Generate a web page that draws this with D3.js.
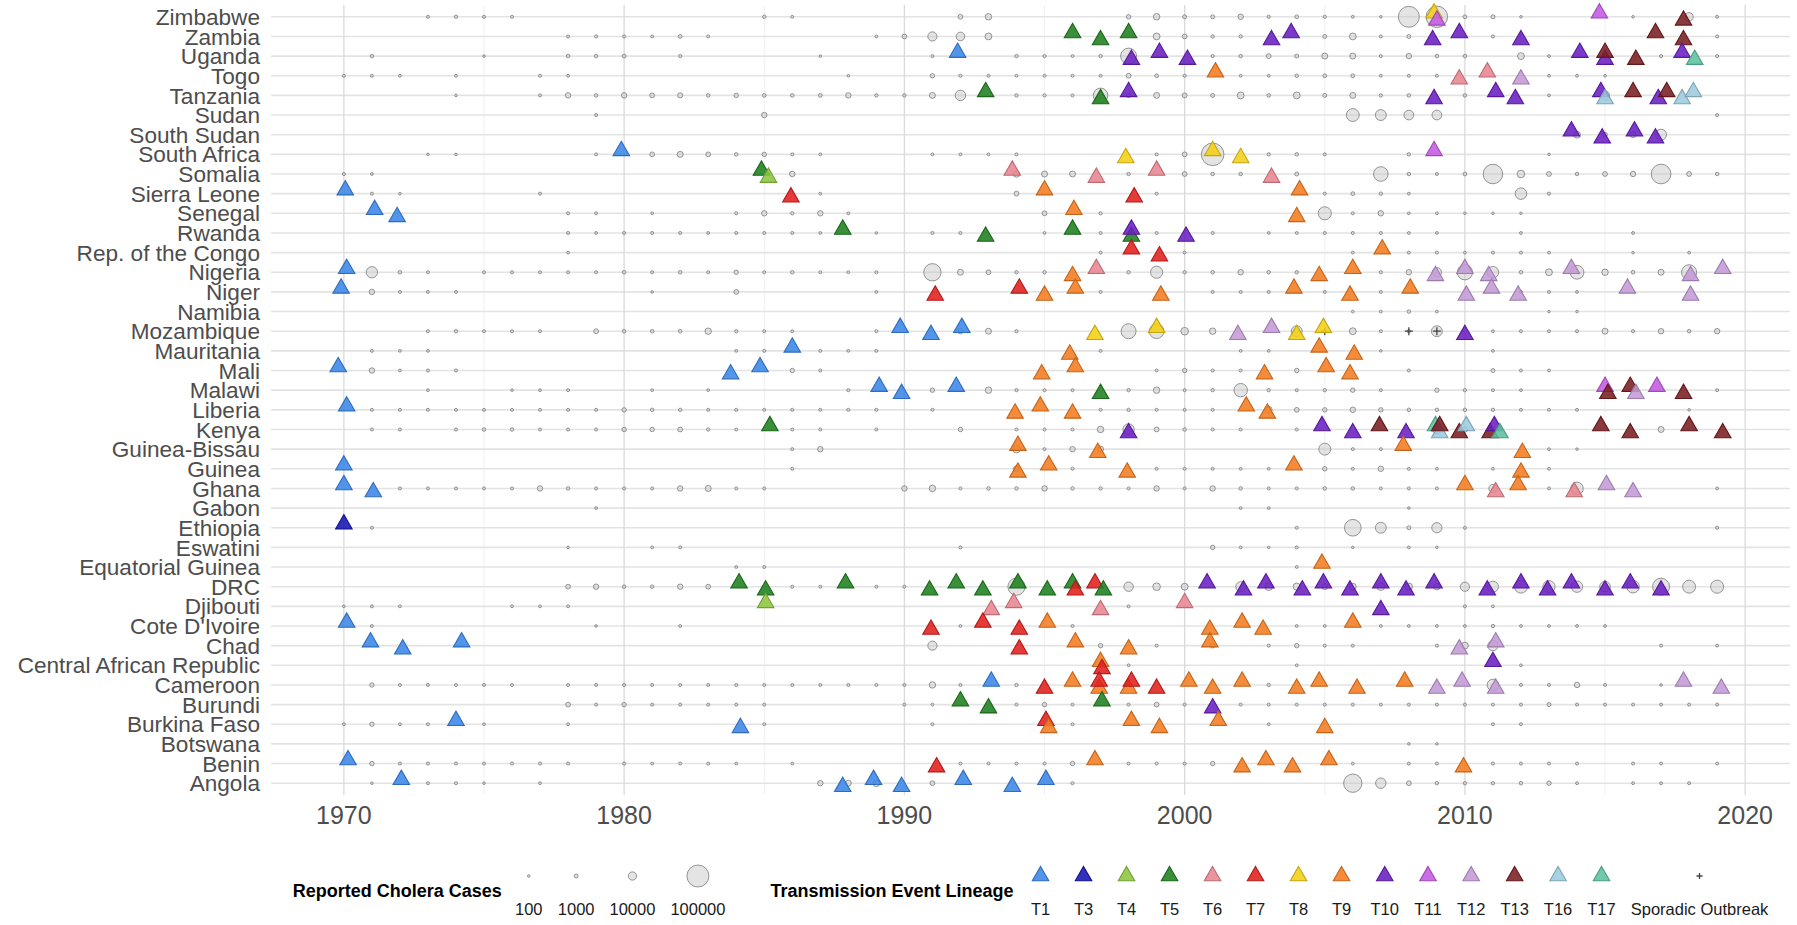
<!DOCTYPE html>
<html>
<head>
<meta charset="utf-8">
<script src="https://cdn.jsdelivr.net/npm/d3@7"></script>
<style>
  body { margin: 0; background: #fff; }
  svg { display: block; font-family: "Liberation Sans", Arial, sans-serif; }
  .row-grid { stroke: #e3e3e3; stroke-width: 1.6; }
  .major-grid { stroke: #dadada; stroke-width: 1.3; }
  .minor-grid { stroke: #eeeeee; stroke-width: 0.9; }
  .country { fill: #4d4d4d; font-size: 22.6px; }
  .year { fill: #4d4d4d; font-size: 25px; }
  .cases { fill: #c4c4c4; fill-opacity: 0.45; stroke: #767676; stroke-opacity: 0.75; stroke-width: 1; }
  .event { fill-opacity: 0.88; stroke-width: 1.1; }
  .sporadic { stroke: #444; stroke-width: 1.3; }
  .legend-title { font-size: 18px; font-weight: bold; fill: #000; }
  .legend-label { font-size: 16.5px; fill: #1a1a1a; }
</style>
</head>
<body>
<svg id="chart" width="1797" height="925"></svg>
<script>
var countries = ["Zimbabwe", "Zambia", "Uganda", "Togo", "Tanzania", "Sudan", "South Sudan",
  "South Africa", "Somalia", "Sierra Leone", "Senegal", "Rwanda", "Rep. of the Congo", "Nigeria",
  "Niger", "Namibia", "Mozambique", "Mauritania", "Mali", "Malawi", "Liberia", "Kenya",
  "Guinea-Bissau", "Guinea", "Ghana", "Gabon", "Ethiopia", "Eswatini", "Equatorial Guinea", "DRC",
  "Djibouti", "Cote D'Ivoire", "Chad", "Central African Republic", "Cameroon", "Burundi",
  "Burkina Faso", "Botswana", "Benin", "Angola"];

var lineages = ["T1", "T3", "T4", "T5", "T6", "T7", "T8", "T9", "T10", "T11", "T12", "T13", "T16", "T17"];
var lineageColors = ["#3a86e8", "#1515b5", "#8dc63f", "#1f7f1f", "#e98590", "#e0201e", "#f3cf14",
  "#f47c20", "#6a1fc0", "#c45ae3", "#c39ad6", "#7a1e22", "#9ccbe0", "#5dc1a0"];

var sizeBreaks = [100, 1000, 10000, 100000];
var yearTicks = [1970, 1980, 1990, 2000, 2010, 2020];
var minorTicks = [1975, 1985, 1995, 2005, 2015];

// reported cases: country, [year, cases, year, cases, ...]
var cases = [
  ["Zimbabwe", [1973,300, 1974,500, 1975,300, 1976,300, 1985,600, 1986,200, 1992,2000, 1993,5000, 1998,1500, 1999,5000, 2000,1000, 2001,1000, 2002,3000, 2003,400, 2004,800, 2005,400, 2006,200, 2007,100, 2008,90000, 2009,95000, 2010,800, 2011,1100, 2012,100, 2016,100, 2018,10000, 2019,300]],
  ["Zambia", [1978,300, 1979,300, 1980,300, 1981,200, 1982,800, 1983,300, 1989,200, 1990,2000, 1991,13000, 1992,11000, 1993,6000, 1999,6000, 2000,2000, 2001,500, 2002,500, 2005,1000, 2006,6000, 2007,300, 2008,1000, 2011,300, 2019,300]],
  ["Uganda", [1971,600, 1975,100, 1978,600, 1979,600, 1980,800, 1982,400, 1987,100, 1991,300, 1994,500, 1995,400, 1996,200, 1997,500, 1998,49000, 2001,400, 2002,600, 2003,2000, 2004,1000, 2005,4000, 2006,4000, 2007,300, 2008,3000, 2009,600, 2010,600, 2012,6000, 2013,200, 2017,300, 2019,300]],
  ["Togo", [1970,300, 1971,300, 1972,200, 1974,200, 1977,300, 1978,200, 1988,100, 1991,1500, 1992,400, 1993,300, 1994,200, 1995,300, 1996,300, 1997,300, 1998,2000, 1999,800, 2000,400, 2002,200, 2003,200, 2004,600, 2005,800, 2006,800, 2007,200, 2008,300, 2009,300, 2013,200, 2014,200, 2015,100]],
  ["Tanzania", [1974,100, 1977,300, 1978,3000, 1979,600, 1980,3000, 1981,2000, 1982,2500, 1983,600, 1984,1500, 1985,800, 1986,700, 1987,800, 1988,3000, 1989,500, 1990,500, 1991,4000, 1992,18000, 1994,500, 1995,400, 1996,300, 1997,40000, 1998,1500, 1999,4000, 2000,2000, 2001,1000, 2002,6000, 2003,700, 2004,6000, 2005,1000, 2006,4000, 2007,500, 2008,600, 2010,600, 2013,200, 2015,12000]],
  ["Sudan", [1979,300, 1985,3000, 2006,30000, 2007,20000, 2008,15000, 2009,15000, 2019,300]],
  ["South Sudan", [2014,6000, 2015,1800, 2016,3800, 2017,20000]],
  ["South Africa", [1973,100, 1974,100, 1979,300, 1981,2000, 1982,4000, 1983,2000, 1984,600, 1985,1500, 1986,300, 1987,200, 1991,200, 1992,200, 1993,200, 1994,300, 1999,300, 2000,2000, 2001,106000, 2003,500, 2004,600, 2005,300, 2008,500, 2013,100]],
  ["Somalia", [1970,300, 1971,200, 1986,3000, 1994,5000, 1995,4000, 1996,4000, 1998,500, 2000,2000, 2001,600, 2002,600, 2004,1000, 2007,40000, 2008,600, 2009,300, 2010,800, 2011,77000, 2012,8000, 2013,2000, 2014,600, 2015,2000, 2016,3000, 2017,78000, 2018,2000, 2019,600]],
  ["Sierra Leone", [1971,300, 1972,100, 1977,300, 1987,200, 1994,2000, 1999,300, 2005,300, 2006,800, 2007,600, 2008,200, 2012,23000, 2013,400]],
  ["Senegal", [1978,300, 1979,300, 1981,200, 1984,300, 1985,3000, 1986,500, 1987,3000, 1988,200, 1995,2000, 1997,400, 2005,31000, 2006,300, 2007,3000, 2008,200, 2009,200, 2010,100, 2011,100, 2012,100]],
  ["Rwanda", [1978,300, 1979,200, 1980,300, 1981,300, 1982,300, 1983,200, 1984,300, 1985,300, 1986,300, 1987,200, 1989,100, 1991,300, 1992,300, 1995,200, 1997,300, 1999,300, 2001,300, 2003,200, 2004,200, 2005,300, 2006,300, 2007,300, 2008,200, 2009,200, 2012,200, 2016,200]],
  ["Rep. of the Congo", [1978,200, 1997,300, 2000,200, 2006,200, 2008,300, 2009,300, 2010,200, 2011,300, 2012,300, 2013,200, 2016,100, 2018,200]],
  ["Nigeria", [1971,22000, 1972,600, 1973,300, 1975,300, 1976,300, 1977,300, 1978,300, 1979,300, 1980,600, 1981,300, 1982,600, 1983,300, 1984,1500, 1985,300, 1986,600, 1987,300, 1988,200, 1989,300, 1991,59000, 1992,4000, 1993,2000, 1994,500, 1995,500, 1998,600, 1999,26000, 2000,500, 2001,600, 2002,3000, 2003,600, 2004,500, 2007,400, 2008,3000, 2009,13000, 2010,44000, 2011,23000, 2012,600, 2013,6000, 2014,35000, 2015,5000, 2016,700, 2017,4000, 2018,43000]],
  ["Niger", [1971,3000, 1972,300, 1973,300, 1974,300, 1981,100, 1984,2000, 1989,200, 1997,300, 2001,300, 2002,300, 2003,300, 2005,300, 2007,300, 2012,300, 2013,300, 2014,200]],
  ["Namibia", [2006,200, 2007,200, 2008,600, 2009,200, 2013,100, 2014,100]],
  ["Mozambique", [1973,300, 1974,500, 1975,300, 1976,300, 1977,300, 1979,2000, 1980,600, 1981,600, 1982,700, 1983,5000, 1984,400, 1985,300, 1986,200, 1989,300, 1992,3000, 1993,4000, 1994,400, 1998,42000, 1999,40000, 2000,8000, 2001,5000, 2004,20000, 2006,6000, 2007,300, 2008,600, 2009,20000, 2011,200, 2012,300, 2013,300, 2014,300, 2015,4000, 2016,400, 2017,3000, 2018,600, 2019,3000]],
  ["Mauritania", [1971,300, 1972,200, 1973,200, 1984,200, 1985,300, 1987,300, 1988,200, 1989,300, 1997,300, 2002,200, 2003,200, 2007,100, 2011,200]],
  ["Mali", [1971,3000, 1972,200, 1973,300, 1974,300, 1986,1500, 1987,300, 1999,200, 2000,1500, 2001,300, 2002,300, 2004,1500, 2008,300, 2011,1000, 2012,300, 2013,200]],
  ["Malawi", [1973,200, 1976,100, 1977,200, 1978,300, 1981,200, 1983,200, 1988,300, 1991,1500, 1993,5000, 1994,400, 1995,300, 1996,300, 1998,500, 1999,5000, 2000,300, 2001,500, 2002,33000, 2003,500, 2004,300, 2005,500, 2006,1500, 2007,300, 2009,1500, 2010,500, 2011,300, 2012,200, 2019,300]],
  ["Liberia", [1971,300, 1972,300, 1973,300, 1974,300, 1975,300, 1976,300, 1977,300, 1978,300, 1979,300, 1980,1500, 1981,600, 1982,500, 1983,300, 1984,300, 1985,300, 1986,300, 1987,300, 1988,300, 1989,300, 1991,300, 1997,300, 1998,500, 1999,300, 2000,300, 2001,300, 2003,6000, 2004,2000, 2005,1500, 2006,3000, 2007,1500, 2008,600, 2009,600, 2010,600, 2011,500, 2012,300, 2013,300, 2014,300, 2018,100]],
  ["Kenya", [1971,300, 1972,300, 1974,300, 1975,700, 1976,600, 1977,300, 1978,300, 1979,300, 1980,1500, 1981,1500, 1982,2000, 1983,500, 1984,300, 1986,300, 1987,300, 1989,300, 1992,1500, 1994,300, 1995,300, 1996,300, 1997,5000, 1998,22000, 1999,2000, 2000,600, 2001,300, 2002,300, 2004,300, 2009,11000, 2010,3000, 2017,4000]],
  ["Guinea-Bissau", [1986,300, 1987,3000, 1994,8000, 1995,300, 1996,3000, 1997,4000, 2005,25000, 2006,300, 2007,300, 2013,200, 2014,100]],
  ["Guinea", [1986,300, 1994,4000, 1996,300, 1999,300, 2000,300, 2001,300, 2002,200, 2003,200, 2005,1500, 2006,300, 2007,3000, 2008,300, 2009,200, 2011,200, 2013,200]],
  ["Ghana", [1972,300, 1973,300, 1974,300, 1975,300, 1976,300, 1977,3000, 1978,600, 1979,300, 1980,300, 1981,300, 1982,3000, 1983,4000, 1984,300, 1985,300, 1990,3000, 1991,5000, 1992,300, 1993,600, 1994,600, 1995,3000, 1996,600, 1997,500, 1998,300, 1999,3000, 2000,300, 2001,3000, 2002,600, 2003,300, 2004,300, 2005,600, 2006,600, 2007,300, 2008,300, 2009,300, 2011,10000, 2013,300, 2014,28000, 2019,200]],
  ["Gabon", [1979,200, 2002,200, 2003,200, 2008,100]],
  ["Ethiopia", [1971,300, 2004,300, 2006,54000, 2007,20000, 2008,1000, 2009,17000, 2010,300, 2019,300]],
  ["Eswatini", [1978,100, 1981,200, 1982,300, 1992,300, 2001,1500, 2002,200, 2003,100, 2004,300, 2006,100, 2008,200, 2009,100]],
  ["Equatorial Guinea", [1984,200, 1985,300, 2004,200]],
  ["DRC", [1978,2000, 1979,3000, 1980,600, 1981,600, 1982,3000, 1983,2000, 1986,300, 1987,300, 1989,300, 1990,300, 1994,58000, 1998,14000, 1999,8000, 2000,6000, 2002,16000, 2003,8000, 2004,7000, 2005,4000, 2006,6000, 2007,8000, 2008,7000, 2009,5000, 2010,13000, 2011,21000, 2012,30000, 2013,26000, 2014,22000, 2015,19000, 2016,28000, 2017,56000, 2018,30000, 2019,31000]],
  ["Djibouti", [1970,100, 1971,300, 1972,200, 1976,200, 1977,200, 1978,200, 1998,300, 2010,300, 2011,200]],
  ["Cote D'Ivoire", [1971,300, 1979,100, 1982,200, 1992,200, 1996,300, 2004,200, 2005,200, 2007,200, 2008,200, 2009,200, 2010,200, 2011,500, 2012,200, 2013,200, 2014,200, 2015,200]],
  ["Chad", [1991,13000, 1997,1500, 1999,300, 2001,2000, 2003,300, 2004,1500, 2005,300, 2006,300, 2009,300, 2010,6000, 2011,17000, 2017,300, 2019,200]],
  ["Central African Republic", [1998,200, 2004,200, 2012,200]],
  ["Cameroon", [1971,1500, 1972,300, 1973,300, 1974,300, 1975,300, 1976,300, 1978,300, 1979,300, 1980,300, 1981,300, 1982,300, 1983,300, 1984,300, 1985,300, 1986,300, 1987,300, 1988,300, 1989,300, 1990,300, 1991,5000, 1992,300, 1994,500, 2003,500, 2011,23000, 2012,300, 2013,300, 2014,3000, 2015,300, 2017,100]],
  ["Burundi", [1978,2000, 1979,300, 1980,1500, 1981,300, 1982,300, 1983,300, 1984,300, 1985,300, 1990,300, 1991,200, 1994,300, 1995,1500, 1996,300, 1998,300, 1999,2000, 2000,300, 2002,300, 2003,300, 2004,300, 2005,300, 2006,300, 2007,300, 2008,300, 2009,300, 2010,300, 2011,300, 2012,300, 2013,1000, 2014,300, 2015,300, 2016,300, 2017,300, 2018,300, 2019,300]],
  ["Burkina Faso", [1970,200, 1971,1500, 1972,200, 1973,300, 1975,200, 1978,200, 1985,300, 1991,300, 1996,300, 2003,200, 2011,300, 2012,300]],
  ["Botswana", [2008,100, 2009,100]],
  ["Benin", [1971,1500, 1972,300, 1973,300, 1974,300, 1975,300, 1976,300, 1977,300, 1978,300, 1980,300, 1981,200, 1982,300, 1983,300, 1984,200, 1986,200, 1992,300, 1993,300, 1994,300, 1995,300, 1996,1500, 1998,300, 1999,300, 2000,300, 2001,1500, 2006,200, 2008,300, 2009,300, 2011,300, 2012,300, 2013,300, 2014,300, 2016,300, 2017,200, 2019,200]],
  ["Angola", [1971,100, 1973,300, 1974,300, 1975,100, 1977,200, 1987,3000, 1988,4000, 1989,6000, 1991,2000, 1996,300, 2006,67000, 2007,18000, 2008,2000, 2009,500, 2010,500, 2011,500, 2012,600, 2013,1500, 2014,200, 2016,200, 2017,300, 2018,300]]
];

// transmission events: country, [date, lineage, date, lineage, ...]
var events = [
  ["Zimbabwe", [2008.9,"T8", 2009,"T11", 2014.8,"T11", 2017.8,"T13"]],
  ["Zambia", [1996,"T5", 1997,"T5", 1998,"T5", 2003.1,"T10", 2003.8,"T10", 2008.85,"T10", 2009.8,"T10", 2012,"T10", 2016.8,"T13", 2017.8,"T13"]],
  ["Uganda", [1991.9,"T1", 1998.1,"T10", 1999.1,"T10", 2000.1,"T10", 2014.1,"T10", 2015,"T10", 2015,"T13", 2016.1,"T13", 2017.75,"T10", 2018.2,"T17"]],
  ["Togo", [2001.1,"T9", 2009.8,"T6", 2010.8,"T6", 2012,"T12"]],
  ["Tanzania", [1992.9,"T5", 1997,"T5", 1998,"T10", 2008.9,"T10", 2011.1,"T10", 2011.8,"T10", 2014.85,"T10", 2015,"T16", 2016,"T13", 2016.9,"T10", 2017.2,"T13", 2017.75,"T16", 2018.15,"T16"]],
  ["South Sudan", [2013.8,"T10", 2014.9,"T10", 2016.05,"T10", 2016.8,"T10"]],
  ["South Africa", [1979.9,"T1", 1997.9,"T8", 2001,"T8", 2002,"T8", 2008.9,"T11"]],
  ["Somalia", [1984.9,"T5", 1985.15,"T4", 1993.85,"T6", 1996.85,"T6", 1999,"T6", 2003.1,"T6"]],
  ["Sierra Leone", [1970.05,"T1", 1985.95,"T7", 1995,"T9", 1998.2,"T7", 2004.1,"T9"]],
  ["Senegal", [1971.1,"T1", 1971.9,"T1", 1996.05,"T9", 2004,"T9"]],
  ["Rwanda", [1987.8,"T5", 1992.9,"T5", 1996,"T5", 1998.1,"T5", 1998.1,"T10", 2000.05,"T10"]],
  ["Rep. of the Congo", [1998.1,"T7", 1999.1,"T7", 2007.05,"T9"]],
  ["Nigeria", [1970.1,"T1", 1996,"T9", 1996.85,"T6", 2004.8,"T9", 2006,"T9", 2008.95,"T12", 2010,"T12", 2010.85,"T12", 2013.8,"T12", 2018.05,"T12", 2019.2,"T12"]],
  ["Niger", [1969.9,"T1", 1991.1,"T7", 1994.1,"T7", 1995,"T9", 1996.1,"T9", 1999.15,"T9", 2003.9,"T9", 2005.9,"T9", 2008.05,"T9", 2010.05,"T12", 2010.95,"T12", 2011.9,"T12", 2015.8,"T12", 2018.05,"T12"]],
  ["Mozambique", [1989.85,"T1", 1990.95,"T1", 1992.05,"T1", 1996.8,"T8", 1999,"T8", 2001.9,"T12", 2003.1,"T12", 2004,"T8", 2004.95,"T8", 2010,"T10"]],
  ["Mauritania", [1986,"T1", 1995.9,"T9", 2004.8,"T9", 2006.05,"T9"]],
  ["Mali", [1969.8,"T1", 1983.8,"T1", 1984.85,"T1", 1994.9,"T9", 1996.1,"T9", 2002.85,"T9", 2005.05,"T9", 2005.9,"T9"]],
  ["Malawi", [1989.1,"T1", 1989.9,"T1", 1991.85,"T1", 1997,"T5", 2015,"T11", 2015.1,"T13", 2015.9,"T13", 2016.1,"T12", 2016.85,"T11", 2017.8,"T13"]],
  ["Liberia", [1970.1,"T1", 1993.95,"T9", 1994.85,"T9", 1996,"T9", 2002.2,"T9", 2002.95,"T9"]],
  ["Kenya", [1985.2,"T5", 1998,"T10", 2004.9,"T10", 2006,"T10", 2006.95,"T13", 2007.9,"T10", 2008.95,"T17", 2009.1,"T16", 2009.1,"T13", 2009.8,"T13", 2010.05,"T16", 2010.9,"T13", 2011.05,"T10", 2011.25,"T17", 2014.85,"T13", 2015.9,"T13", 2018,"T13", 2019.2,"T13"]],
  ["Guinea-Bissau", [1994.05,"T9", 1996.9,"T9", 2007.8,"T9", 2012.05,"T9"]],
  ["Guinea", [1970,"T1", 1994.05,"T9", 1995.15,"T9", 1997.95,"T9", 2003.9,"T9", 2012,"T9"]],
  ["Ghana", [1970,"T1", 1971.05,"T1", 2010,"T9", 2011.1,"T6", 2011.9,"T9", 2013.9,"T6", 2015.05,"T12", 2016,"T12"]],
  ["Ethiopia", [1970,"T3"]],
  ["Equatorial Guinea", [2004.9,"T9"]],
  ["DRC", [1984.1,"T5", 1985.05,"T5", 1987.9,"T5", 1990.9,"T5", 1991.85,"T5", 1992.8,"T5", 1994.05,"T5", 1995.1,"T5", 1996,"T5", 1996.1,"T7", 1996.8,"T7", 1997.1,"T5", 2000.8,"T10", 2002.1,"T10", 2002.9,"T10", 2004.2,"T10", 2004.95,"T10", 2005.9,"T10", 2007,"T10", 2007.9,"T10", 2008.9,"T10", 2010.8,"T10", 2012,"T10", 2012.95,"T10", 2013.8,"T10", 2015,"T10", 2015.9,"T10", 2017,"T10"]],
  ["Djibouti", [1985.05,"T4", 1993.1,"T6", 1993.9,"T6", 1997,"T6", 2000,"T6", 2007,"T10"]],
  ["Cote D'Ivoire", [1970.1,"T1", 1990.95,"T7", 1992.8,"T7", 1994.1,"T7", 1995.1,"T9", 2000.9,"T9", 2002.05,"T9", 2002.8,"T9", 2006,"T9"]],
  ["Chad", [1970.95,"T1", 1972.1,"T1", 1974.2,"T1", 1994.1,"T7", 1996.1,"T9", 1998,"T9", 2000.9,"T9", 2009.8,"T12", 2011.1,"T12"]],
  ["Central African Republic", [1997,"T9", 1997.05,"T7", 2011,"T10"]],
  ["Cameroon", [1993.1,"T1", 1995,"T7", 1996,"T9", 1996.95,"T9", 1996.95,"T7", 1998,"T9", 1998.1,"T7", 1999,"T7", 2000.15,"T9", 2001,"T9", 2002.05,"T9", 2004,"T9", 2004.8,"T9", 2006.15,"T9", 2007.85,"T9", 2009,"T12", 2009.9,"T12", 2011.1,"T12", 2017.8,"T12", 2019.15,"T12"]],
  ["Burundi", [1992,"T5", 1993,"T5", 1997.05,"T5", 2001,"T10"]],
  ["Burkina Faso", [1974,"T1", 1984.15,"T1", 1995.05,"T7", 1995.15,"T9", 1998.1,"T9", 1999.1,"T9", 2001.2,"T9", 2005,"T9"]],
  ["Benin", [1970.15,"T1", 1991.15,"T7", 1996.8,"T9", 2002.05,"T9", 2002.9,"T9", 2003.85,"T9", 2005.15,"T9", 2009.95,"T9"]],
  ["Angola", [1972.05,"T1", 1987.8,"T1", 1988.9,"T1", 1989.9,"T1", 1992.1,"T1", 1993.85,"T1", 1995.05,"T1"]]
];

var sporadic = [["Mozambique", [2005, 2008, 2009]]];

var svg = d3.select("#chart"),
    width = +svg.attr("width"),
    height = +svg.attr("height");

var panel = {left: 271, right: 1790, top: 5, bottom: 795};

var x = d3.scaleLinear()
    .domain([1967.4, 2021.6])
    .range([panel.left, panel.right]);

var y = d3.scalePoint()
    .domain(countries)
    .range([panel.top, panel.bottom])
    .padding(0.6);

var r = d3.scaleSqrt()
    .domain([100, 100000])
    .range([1.3, 11]);

var color = d3.scaleOrdinal()
    .domain(lineages)
    .range(lineageColors);

function triangle(s) {
  var h = s * 0.87;
  return "M0," + (-h * 2 / 3) + "L" + (s / 2) + "," + (h / 3) + "L" + (-s / 2) + "," + (h / 3) + "Z";
}
var triPath = triangle(16.5);
var plusPath = "M-4,0H4M0,-4V4";

// flatten the pair lists
var casePoints = [];
cases.forEach(function(row) {
  for (var i = 0; i < row[1].length; i += 2)
    casePoints.push({country: row[0], year: row[1][i], n: row[1][i + 1]});
});

var eventPoints = [];
events.forEach(function(row) {
  for (var i = 0, k = 0; i < row[1].length; i += 2, k++)
    eventPoints.push({country: row[0], year: row[1][i], lineage: row[1][i + 1], k: k});
});

var sporadicPoints = [];
sporadic.forEach(function(row) {
  row[1].forEach(function(yr) { sporadicPoints.push({country: row[0], year: yr}); });
});

// gridlines
var grid = svg.append("g");
grid.selectAll(".minor-grid")
  .data(minorTicks)
  .enter().append("line")
    .attr("class", "minor-grid")
    .attr("x1", function(d) { return x(d); })
    .attr("x2", function(d) { return x(d); })
    .attr("y1", panel.top)
    .attr("y2", panel.bottom);

grid.selectAll(".row-grid")
  .data(countries)
  .enter().append("line")
    .attr("class", "row-grid")
    .attr("x1", panel.left)
    .attr("x2", panel.right)
    .attr("y1", function(d) { return y(d); })
    .attr("y2", function(d) { return y(d); });

grid.selectAll(".major-grid")
  .data(yearTicks)
  .enter().append("line")
    .attr("class", "major-grid")
    .attr("x1", function(d) { return x(d); })
    .attr("x2", function(d) { return x(d); })
    .attr("y1", panel.top)
    .attr("y2", panel.bottom);

// axes text
svg.append("g").selectAll("text")
  .data(countries)
  .enter().append("text")
    .attr("class", "country")
    .attr("x", panel.left - 11)
    .attr("y", function(d) { return y(d); })
    .attr("dy", "0.36em")
    .attr("text-anchor", "end")
    .text(function(d) { return d; });

svg.append("g").selectAll("text")
  .data(yearTicks)
  .enter().append("text")
    .attr("class", "year")
    .attr("x", function(d) { return x(d); })
    .attr("y", 824)
    .attr("text-anchor", "middle")
    .text(function(d) { return d; });

// reported cases
svg.append("g").selectAll("circle")
  .data(casePoints)
  .enter().append("circle")
    .attr("class", "cases")
    .attr("cx", function(d) { return x(d.year); })
    .attr("cy", function(d) { return y(d.country); })
    .attr("r", function(d) { return r(d.n); });

// sporadic outbreaks
svg.append("g").selectAll("path")
  .data(sporadicPoints)
  .enter().append("path")
    .attr("class", "sporadic")
    .attr("d", plusPath)
    .attr("transform", function(d) { return "translate(" + x(d.year) + "," + y(d.country) + ")"; });

// transmission events, nudged up / down alternately within a row
var nudge = y.step() * 0.18;
svg.append("g").selectAll("path")
  .data(eventPoints)
  .enter().append("path")
    .attr("class", "event")
    .attr("d", triPath)
    .attr("fill", function(d) { return color(d.lineage); })
    .attr("stroke", function(d) { return d3.color(color(d.lineage)).darker(0.6); })
    .attr("transform", function(d) {
      return "translate(" + x(d.year) + "," + (y(d.country) + (d.k % 2 ? nudge : -nudge)) + ")";
    });

// legend
var legend = svg.append("g");
var keyY = 876, labelY = 915, titleY = 897, keyMin = 28, keyGap = 15;
var cursor = 0;

function addTitle(txt) {
  var t = legend.append("text").attr("class", "legend-title")
      .attr("x", cursor).attr("y", titleY).text(txt);
  cursor += t.node().getComputedTextLength() + 13;
}

function addKey(label, draw) {
  var t = legend.append("text").attr("class", "legend-label")
      .attr("y", labelY).attr("text-anchor", "middle").text(label);
  var w = Math.max(keyMin, t.node().getComputedTextLength());
  var cx = cursor + w / 2;
  t.attr("x", cx);
  draw(legend.append("g").attr("transform", "translate(" + cx + "," + keyY + ")"));
  cursor += w + keyGap;
}

addTitle("Reported Cholera Cases");
sizeBreaks.forEach(function(b) {
  addKey(String(b), function(g) {
    g.append("circle").attr("class", "cases").attr("r", r(b));
  });
});
cursor += 30;
addTitle("Transmission Event Lineage");
lineages.forEach(function(l) {
  addKey(l, function(g) {
    g.append("path").attr("class", "event").attr("d", triPath)
      .attr("fill", color(l)).attr("stroke", d3.color(color(l)).darker(0.6));
  });
});
addKey("Sporadic Outbreak", function(g) {
  g.append("path").attr("class", "sporadic").attr("d", "M-3,0H3M0,-3V3");
});

var total = cursor - keyGap;
legend.attr("transform", "translate(" + ((panel.left + panel.right) / 2 - total / 2) + ",0)");
</script>
</body>
</html>
